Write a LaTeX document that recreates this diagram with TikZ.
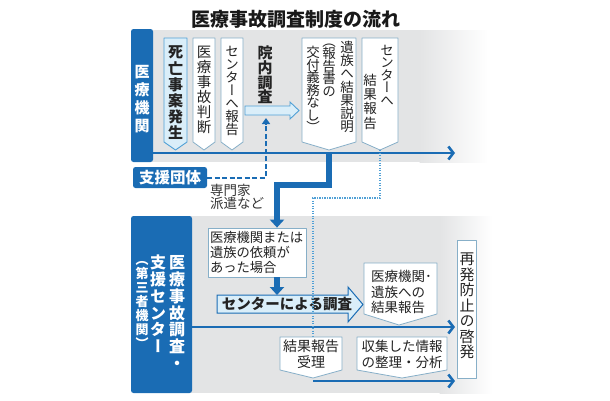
\documentclass[tikz,border=0pt]{standalone}
\usepackage{fontspec}
\setmainfont{Noto Sans CJK JP}
\newfontfamily\vjfont[RawFeature=+vert]{Noto Sans CJK JP}
\usetikzlibrary{arrows.meta}
\definecolor{kblue}{RGB}{26,108,180}
\definecolor{lblue}{RGB}{218,238,249}
\definecolor{mblue}{RGB}{80,160,214}
\definecolor{bgray}{RGB}{227,228,229}
\definecolor{bordg}{RGB}{135,175,200}
\definecolor{txt}{RGB}{35,35,35}
\newcommand\vst[2]{\vbox{\baselineskip=#1pt\lineskiplimit=-100pt\lineskip=0pt\vstaux#2\vstend}}
\def\vstaux#1{\ifx#1\vstend\else\hbox to 1em{\hss#1\hss}\expandafter\vstaux\fi}
\let\vstend\relax
\tikzset{
  bluebar/.style={fill=kblue, rounded corners=2.5pt},
  wbox/.style={fill=white, draw=bordg, line width=0.8pt, line join=round},
  hilite/.style={fill=lblue, draw=mblue, line width=0.9pt, line join=round},
  mainline/.style={draw=kblue, line width=2.6pt, -{Straight Barb[length=5pt,width=13pt]}},
  flowthick/.style={draw=kblue, line width=5.5pt, -{Triangle[length=8pt,width=14pt]}},
  dashln/.style={draw=kblue, line width=2pt, dash pattern=on 5pt off 2.5pt, -{Triangle[length=6pt,width=8pt]}},
  dotln/.style={draw=mblue, line width=1.1pt, dash pattern=on 1.1pt off 1.4pt},
  vtx/.style={font=\vjfont\fontsize{#1}{#1}\selectfont},
  vtxb/.style={font=\vjfont\bfseries\fontsize{#1}{#1}\selectfont},
  htx/.style={font=\fontsize{#1}{#1}\selectfont},
}
\begin{document}
\begin{tikzpicture}[x=1pt,y=-1pt, every node/.style={inner sep=0pt, text=txt}]
\useasboundingbox (0,0) rectangle (610,400);
% title
\node[font=\fontsize{19}{19}\selectfont\bfseries, text=black!90] (title) at (296,19) {医療事故調査制度の流れ};
% panels
\fill[bgray] (140,30) rectangle (420,162);
\shade[left color=bgray, right color=white] (419.5,30) rectangle (488,162);
\fill[bgray] (140,216) rectangle (440,393);
\shade[left color=bgray, right color=white] (439.5,216) rectangle (492,393);
% bars
\node[bluebar, minimum width=22pt, minimum height=133pt] (ibar) at (142,95.5) {};
\node[vtxb=15, text=white] (ibarlab) at (142,99) {\vst{18}{医療機関}};
\node[bluebar, minimum width=61pt, minimum height=177pt] (cbar) at (161.5,304.5) {};
\node[vtxb=16, text=white] (cbl1) at (177,312.5) {\vst{16.8}{医療事故調査・}};
\node[vtxb=16, text=white] (cbl2) at (158,304) {\vst{16.8}{支援センター}};
\node[vtxb=13, text=white] (cbl3) at (142,305) {\vst{14}{（第三者機関）}};
% support org
\node[bluebar, minimum width=74pt, minimum height=21pt, text=white, font=\fontsize{15.5}{15.5}\selectfont\bfseries] (shien) at (170,177.5) {支援団体};
\node[htx=13.5, align=left, anchor=north west, text=black!80] (haken) at (210,184) {専門家\\[-0.5pt]派遣など};
% coordinates
\coordinate (j1) at (329,153);
\coordinate (j2) at (277,185);
\coordinate (j4) at (313,198);
\coordinate (crpt) at (380,150);
\coordinate (innaiarr) at (266,118);
\coordinate (chosatop) at (277,295);
\coordinate (juritop) at (313,337);
\coordinate (jurib) at (313,381);
\coordinate (l2) at (455,327);
\coordinate (l3) at (455,381);
% request box
\node[wbox, text width=94pt, minimum height=49pt, inner xsep=2pt, align=left, htx=13.3] (irai) at (257,252.5) {医療機関または\\[1.5pt]遺族の依頼が\\[1.5pt]あった場合};
% main lines
\draw[mainline] (ibar.east |- j1) -- (455,153);
\draw[mainline] (cbar.east |- l2) -- (l2);
\draw[mainline] (jurib) -- (l3);
% thick flow
\draw[flowthick] (j1) -- (j1 |- j2) -- (j2) -- (j2 |- irai.north);
\draw[flowthick] (irai.south -| j2) -- (chosatop);
% dashed support
\draw[dashln] (shien.east) -- (shien.east -| innaiarr) -- (innaiarr);
% top boxes
\draw[hilite] (164,38) -- (187,38) -- (187,142) -- (175.5,150) -- (164,142) -- cycle;
\node[vtxb=15] (p1) at (175.5,93) {\vst{16.2}{死亡事案発生}};
\draw[wbox] (193,38) -- (215,38) -- (215,142) -- (204,150) -- (193,142) -- cycle;
\node[vtx=14.5] (p2) at (204,89.5) {\vst{15}{医療事故判断}};
\draw[wbox] (221,38) -- (243,38) -- (243,142) -- (232,150) -- (221,142) -- cycle;
\node[vtx=13.5] (p3) at (232,91) {\vst{13}{センターへ報告}};
\node[vtxb=15] (innai) at (265,75) {\vst{14.7}{院内調査}};
\draw[fill=lblue, draw=mblue, line width=0.9pt, line join=miter] (245,106) -- (290,106) -- (290,102) -- (299,110.5) -- (290,119) -- (290,115) -- (245,115) -- cycle;
\draw[wbox] (302,38) -- (356,38) -- (356,142) -- (329,150) -- (302,142) -- cycle;
\node[vtx=13.5] (iz1) at (347,87) {\vst{13.3}{遺族へ結果説明}};
\node[vtx=13.5] (iz2) at (329,70) {\vst{12.5}{（報告書の}};
\node[vtx=13.5] (iz3) at (313,89.5) {\vst{12.5}{交付義務なし）}};
\draw[wbox] (362,38) -- (398,38) -- (398,142) -- (crpt) -- (362,142) -- cycle;
\node[vtx=13.5] (cr1) at (387,75) {\vst{12.5}{センターへ}};
\node[vtx=13.5] (cr2) at (370,101.5) {\vst{14.3}{結果報告}};
% center investigation arrow
\draw[fill=lblue, draw=kblue, line width=1pt, line join=miter] (217,295) -- (348,295) -- (348,287) -- (363,304.5) -- (348,322) -- (348,313) -- (217,313) -- cycle;
\node[font=\fontsize{14.5}{14.5}\selectfont\bfseries] (chosa) at (287,304) {センターによる調査};
% dotted
\draw[dotln] (crpt) -- (crpt |- j4) -- (j4) -- (juritop);
% bottom boxes
\draw[wbox] (364,263) -- (437,263) -- (437,314) -- (399,325) -- (364,314) -- cycle;
\node[htx=13.5, align=left, anchor=west] (kekka) at (371,292) {医療機関･\\[2pt]遺族への\\[2pt]結果報告};
\node[wbox, minimum width=19pt, minimum height=138pt] (saihatsu) at (467,309) {};
\node[vtx=15] (saitext) at (467,306) {\vst{15.5}{再発防止の啓発}};
\draw[wbox] (280,337) -- (342,337) -- (342,370) -- (313,378) -- (280,370) -- cycle;
\node[htx=14, align=center] (juri) at (311,354.5) {結果報告\\[2pt]受理};
\draw[wbox] (357,337) -- (447,337) -- (447,370) -- (402,378) -- (357,370) -- cycle;
\node[htx=13.5, align=center] (shushu) at (402,354.5) {収集した情報\\[2pt]の整理・分析};
\end{tikzpicture}
\end{document}
